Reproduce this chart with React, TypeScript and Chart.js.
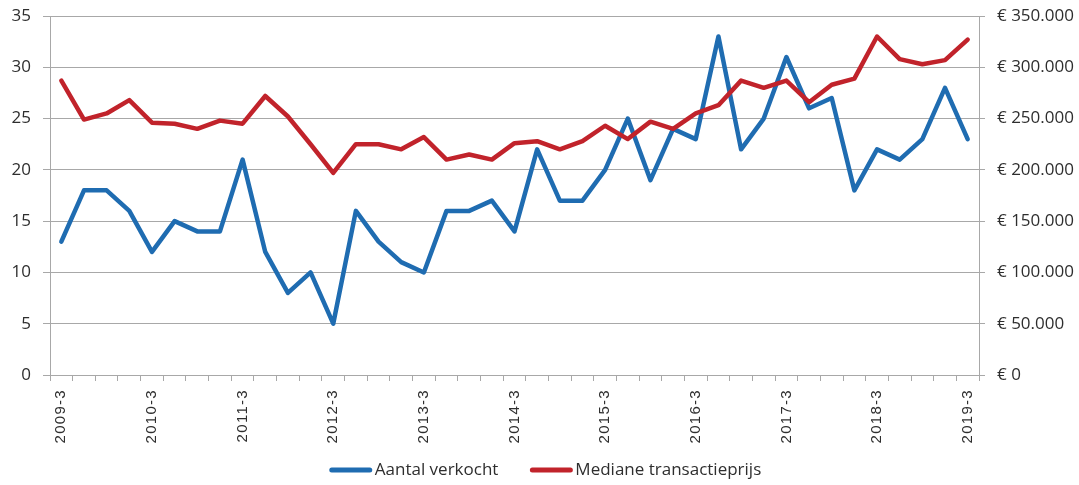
import React, { useEffect, useRef } from 'react';
import { Chart, registerables } from 'chart.js';
Chart.register(...registerables);

const categories = ['2009-3','2009-4','2010-1','2010-2','2010-3','2010-4','2011-1','2011-2','2011-3','2011-4','2012-1','2012-2','2012-3','2012-4','2013-1','2013-2','2013-3','2013-4','2014-1','2014-2','2014-3','2014-4','2015-1','2015-2','2015-3','2015-4','2016-1','2016-2','2016-3','2016-4','2017-1','2017-2','2017-3','2017-4','2018-1','2018-2','2018-3','2018-4','2019-1','2019-2','2019-3'];

const aantalVerkocht = [13,18,18,16,12,15,14,14,21,12,8,10,5,16,13,11,10,16,16,17,14,22,17,17,20,25,19,24,23,33,22,25,31,26,27,18,22,21,23,28,23];

const medianePrijs = [287000,249000,255000,268000,246000,245000,240000,248000,245000,272000,252000,225000,197000,225000,225000,220000,232000,210000,215000,210000,226000,228000,220000,228000,243000,230000,247000,240000,255000,263000,287000,280000,287000,266000,283000,289000,330000,308000,303000,307000,327000];

const shownLabels = ['2009-3','2010-3','2011-3','2012-3','2013-3','2014-3','2015-3','2016-3','2017-3','2018-3','2019-3'];

const seriesNames = ['Aantal verkocht', 'Mediane transactieprijs'];

const BLUE = '#1f6cb1';
const RED = '#c1232b';
const GRID = '#a8a8a8';
const TEXT = '#2e2e2e';
const FONT = '"Open Sans", "Noto Sans", sans-serif';
const XFONT = '"Liberation Sans", Arial, sans-serif';

function euro(v: number) {
  if (v === 0) return '€ 0';
  const s = Math.round(v).toString();
  return '€ ' + s.replace(/\B(?=(\d{3})+(?!\d))/g, '.');
}

// Legend drawn from the chart's own datasets (line-style markers like the original)
const bottomLegend = {
  id: 'bottomLegend',
  afterDraw(chart: any) {
    const ctx = chart.ctx as CanvasRenderingContext2D;
    ctx.save();
    ctx.font = `17px ${FONT}`;
    ctx.textBaseline = 'middle';
    ctx.textAlign = 'left';
    const markerW = 42;
    const markerGap = 3;
    const itemGap = 32;
    const items = chart.data.datasets.map((ds: any) => ({
      text: ds.label as string,
      color: ds.borderColor as string,
      w: ctx.measureText(ds.label).width,
    }));
    const total = items.reduce((a: number, it: any) => a + markerW + markerGap + it.w, 0) + itemGap * (items.length - 1);
    let x = chart.width / 2 + 6 - total / 2;
    const y = chart.height - 15;
    items.forEach((it: any) => {
      ctx.strokeStyle = it.color;
      ctx.lineWidth = 5;
      ctx.lineCap = 'round';
      ctx.beginPath();
      ctx.moveTo(x + 2, y);
      ctx.lineTo(x + markerW - 2, y);
      ctx.stroke();
      x += markerW + markerGap;
      ctx.fillStyle = TEXT;
      ctx.fillText(it.text, x, y);
      x += it.w + itemGap;
    });
    ctx.restore();
  },
};

export default function App() {
  const ref = useRef<HTMLCanvasElement>(null);
  useEffect(() => {
    document.body.style.margin = '0';
    const chart = new Chart(ref.current!, {
      type: 'line',
      data: {
        labels: categories,
        datasets: [
          { label: seriesNames[0], data: aantalVerkocht, yAxisID: 'y', borderColor: BLUE, backgroundColor: BLUE, borderWidth: 4.5, pointRadius: 0, tension: 0, borderJoinStyle: 'round', borderCapStyle: 'round', order: 1 },
          { label: seriesNames[1], data: medianePrijs, yAxisID: 'y1', borderColor: RED, backgroundColor: RED, borderWidth: 4.5, pointRadius: 0, tension: 0, borderJoinStyle: 'round', borderCapStyle: 'round', order: 0 },
        ],
      },
      plugins: [bottomLegend],
      options: {
        animation: false,
        responsive: true,
        maintainAspectRatio: false,
        layout: { padding: { top: 16, left: 0, right: 0, bottom: 33 } },
        plugins: {
          legend: { display: false },
          tooltip: { enabled: false },
        },
        scales: {
          x: {
            offset: true,
            grid: { offset: true, drawOnChartArea: false, tickLength: 6, color: GRID },
            border: { color: GRID, width: 1 },
            ticks: {
              autoSkip: false,
              maxRotation: 90,
              minRotation: 90,
              padding: 8,
              color: TEXT,
              font: { family: XFONT, size: 15 },
              callback: (_v: any, i: number) => (shownLabels.includes(categories[i]) ? categories[i] : ''),
            },
            afterFit: (s: any) => {
              s.height = 77;
              if (!s._spaced) {
                const orig = s.drawLabels;
                s.drawLabels = function (ca: any) {
                  const ctx = this.ctx;
                  ctx.save();
                  (ctx as any).letterSpacing = '1.3px';
                  orig.call(this, ca);
                  ctx.restore();
                };
                s._spaced = true;
              }
            },
          },
          y: {
            position: 'left',
            min: 0,
            max: 35,
            ticks: { stepSize: 5, padding: 12, color: TEXT, font: { family: FONT, size: 17 } },
            grid: { color: GRID, tickLength: 7 },
            border: { color: GRID, width: 1 },
            afterFit: (s: any) => { s.width = 50; s.paddingTop = 0; s.paddingBottom = 0; },
          },
          y1: {
            position: 'right',
            min: 0,
            max: 350000,
            ticks: { stepSize: 50000, padding: 12, color: TEXT, font: { family: FONT, size: 17 }, callback: (v: any) => euro(Number(v)) },
            grid: { drawOnChartArea: false, tickLength: 6, color: GRID },
            border: { color: GRID, width: 1 },
            afterFit: (s: any) => { s.width = 100; s.paddingTop = 0; s.paddingBottom = 0; },
          },
        },
      },
    });
    return () => chart.destroy();
  }, []);
  return (
    <div style={{ position: 'absolute', left: 0, top: 0, width: 1079, height: 485 }}>
      <canvas ref={ref} />
    </div>
  );
}
